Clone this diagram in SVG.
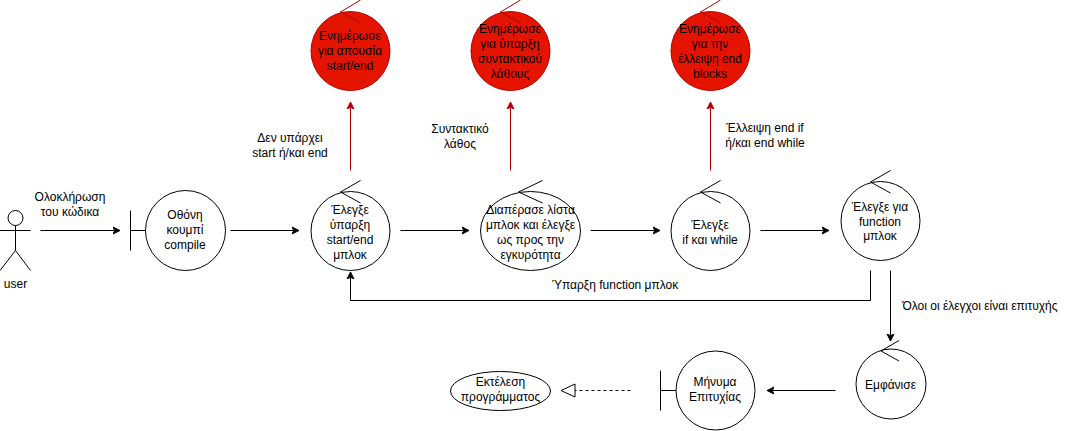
<svg xmlns="http://www.w3.org/2000/svg" width="1071" height="431" viewBox="0 0 1071 431">
<style>
text{font-family:"Liberation Sans",Arial,sans-serif;font-size:12px;fill:#000;text-anchor:middle}
.s{fill:#fff;stroke:#000;stroke-width:1}
.n{fill:none;stroke:#000;stroke-width:1}
.r{fill:#e51400;stroke:#b20000;stroke-width:1}
.rn{fill:none;stroke:#b20000;stroke-width:1}
.c{fill:none;stroke:#000;stroke-width:1;marker-end:url(#a)}
.cr{fill:none;stroke:#b20000;stroke-width:1;marker-end:url(#ar)}
</style>
<defs>
<marker id="a" markerUnits="userSpaceOnUse" markerWidth="10" markerHeight="10" refX="7" refY="5" orient="auto"><path d="M0 1.5L7 5L0 8.5L1.750 5Z" fill="#000" stroke="#000"/></marker>
<marker id="ar" markerUnits="userSpaceOnUse" markerWidth="10" markerHeight="10" refX="7" refY="5" orient="auto"><path d="M0 1.5L7 5L0 8.5L1.750 5Z" fill="#b20000" stroke="#b20000"/></marker>
</defs>
<g id="connectors">
<path class="c" d="M40.500 230.500H120"/>
<path class="c" d="M230.500 230.500H299"/>
<path class="c" d="M400.500 230.500H469"/>
<path class="c" d="M590.500 230.500H660"/>
<path class="c" d="M760.500 230.500H829"/>
<path class="c" d="M870.500 270.500V300.500H350.500V272"/>
<path class="c" d="M890.500 270.500V341"/>
<path class="c" d="M835.500 390.500H767"/>
<path class="n" stroke-dasharray="3 3" d="M630.500 390.500H575"/>
<path d="M575 384L561 390.500L575 397Z" fill="#fff" stroke="#000"/>
<path class="cr" d="M350.500 170.500V102"/>
<path class="cr" d="M510.500 170.500V102"/>
<path class="cr" d="M710.500 170.500V102"/>
</g>
<g id="connector-labels">
<text x="70" y="201">Ολοκλήρωση</text><text x="70" y="216">του κώδικα</text>
<text x="290" y="142">Δεν υπάρχει</text><text x="290" y="157">start ή/και end</text>
<text x="460" y="133">Συντακτικό</text><text x="460" y="148">λάθος</text>
<text x="765" y="132">Έλλειψη end if</text><text x="765" y="147">ή/και end while</text>
<text x="615" y="289">Ύπαρξη function μπλοκ</text>
<text x="980" y="310">Όλοι οι έλεγχοι είναι επιτυχής</text>
</g>
<g id="user">
<circle class="s" cx="15.500" cy="218" r="7.500"/>
<path class="n" d="M15.500 225.500V250.500M0 230.500H30.500M15.500 250.500L0 270.500M15.500 250.500L30.500 270.500"/>
<text x="15.500" y="288">user</text>
</g>
<g id="compile-button">
<path class="n" d="M130.500 210.500V250.500M130.500 230.500H145.500"/>
<circle class="s" cx="185.500" cy="230.500" r="40"/>
<text x="185" y="219">Οθόνη</text><text x="185" y="234">κουμπί</text><text x="185" y="249">compile</text>
</g>
<g id="check-start-end">
<path class="n" d="M340.500 192L360.500 180.500M340.500 192L360.500 203"/>
<circle class="n" cx="350.500" cy="231" r="39.500"/>
<text x="350" y="214">Έλεγξε</text><text x="350" y="229">ύπαρξη</text><text x="350" y="244">start/end</text><text x="350" y="259">μπλοκ</text>
</g>
<g id="traverse-list">
<path class="n" d="M518.500 192L542.500 180.500M518.500 192L542.500 203"/>
<ellipse class="n" cx="530.500" cy="231" rx="50" ry="39.500"/>
<text x="530.500" y="214">Διαπέρασε λίστα</text><text x="530.500" y="229">μπλοκ και έλεγξε</text><text x="530.500" y="244">ως προς την</text><text x="530.500" y="259">εγκυρότητα</text>
</g>
<g id="check-if-while">
<path class="n" d="M700.500 192L720.500 180.500M700.500 192L720.500 203"/>
<circle class="n" cx="710.500" cy="231" r="39.500"/>
<text x="710" y="229">Έλεγξε</text><text x="710" y="244">if και while</text>
</g>
<g id="check-function">
<path class="n" d="M870.500 182L890.500 170.500M870.500 182L890.500 193"/>
<circle class="n" cx="880.500" cy="221" r="39.500"/>
<text x="880" y="211">Έλεγξε για</text><text x="880" y="226">function</text><text x="880" y="240">μπλοκ</text>
</g>
<g id="show">
<path class="n" d="M881 351L899 340.500M881 351L899 361"/>
<circle class="n" cx="891" cy="384" r="35"/>
<text x="890.500" y="389">Εμφάνισε</text>
</g>
<g id="success-message">
<path class="n" d="M660.500 370.500V410.500M660.500 390.500H676"/>
<circle class="s" cx="715.500" cy="390.500" r="39.500"/>
<text x="715" y="386">Μήνυμα</text><text x="715" y="401">Επιτυχίας</text>
</g>
<g id="run-program">
<ellipse class="s" cx="500.500" cy="391" rx="50" ry="19.500"/>
<text x="500.500" y="386">Εκτέλεση</text><text x="500.500" y="401">προγράμματος</text>
</g>
<g id="notify-missing-start-end">
<path class="rn" d="M340.500 12L360.500 0M340.500 12L360.500 23"/>
<circle class="r" cx="350.500" cy="51" r="39.500"/>
<path class="rn" d="M340.500 12L360.500 23"/>
<text x="350" y="40">Ενημέρωσε</text><text x="350" y="55">για απουσία</text><text x="350" y="70">start/end</text>
</g>
<g id="notify-syntax-error">
<path class="rn" d="M500.500 12L520.500 0M500.500 12L520.500 23"/>
<circle class="r" cx="510.500" cy="51" r="39.500"/>
<path class="rn" d="M500.500 12L520.500 23"/>
<text x="510" y="33">Ενημέρωσε</text><text x="510" y="48">για ύπαρξη</text><text x="510" y="63">συντακτικού</text><text x="510" y="78">λάθους</text>
</g>
<g id="notify-missing-end-blocks">
<path class="rn" d="M700.500 12L720.500 0M700.500 12L720.500 23"/>
<circle class="r" cx="710.500" cy="51" r="39.500"/>
<path class="rn" d="M700.500 12L720.500 23"/>
<text x="710" y="33">Ενημέρωσε</text><text x="710" y="48">για την</text><text x="710" y="63">έλλειψη end</text><text x="710" y="78">blocks</text>
</g>
</svg>
